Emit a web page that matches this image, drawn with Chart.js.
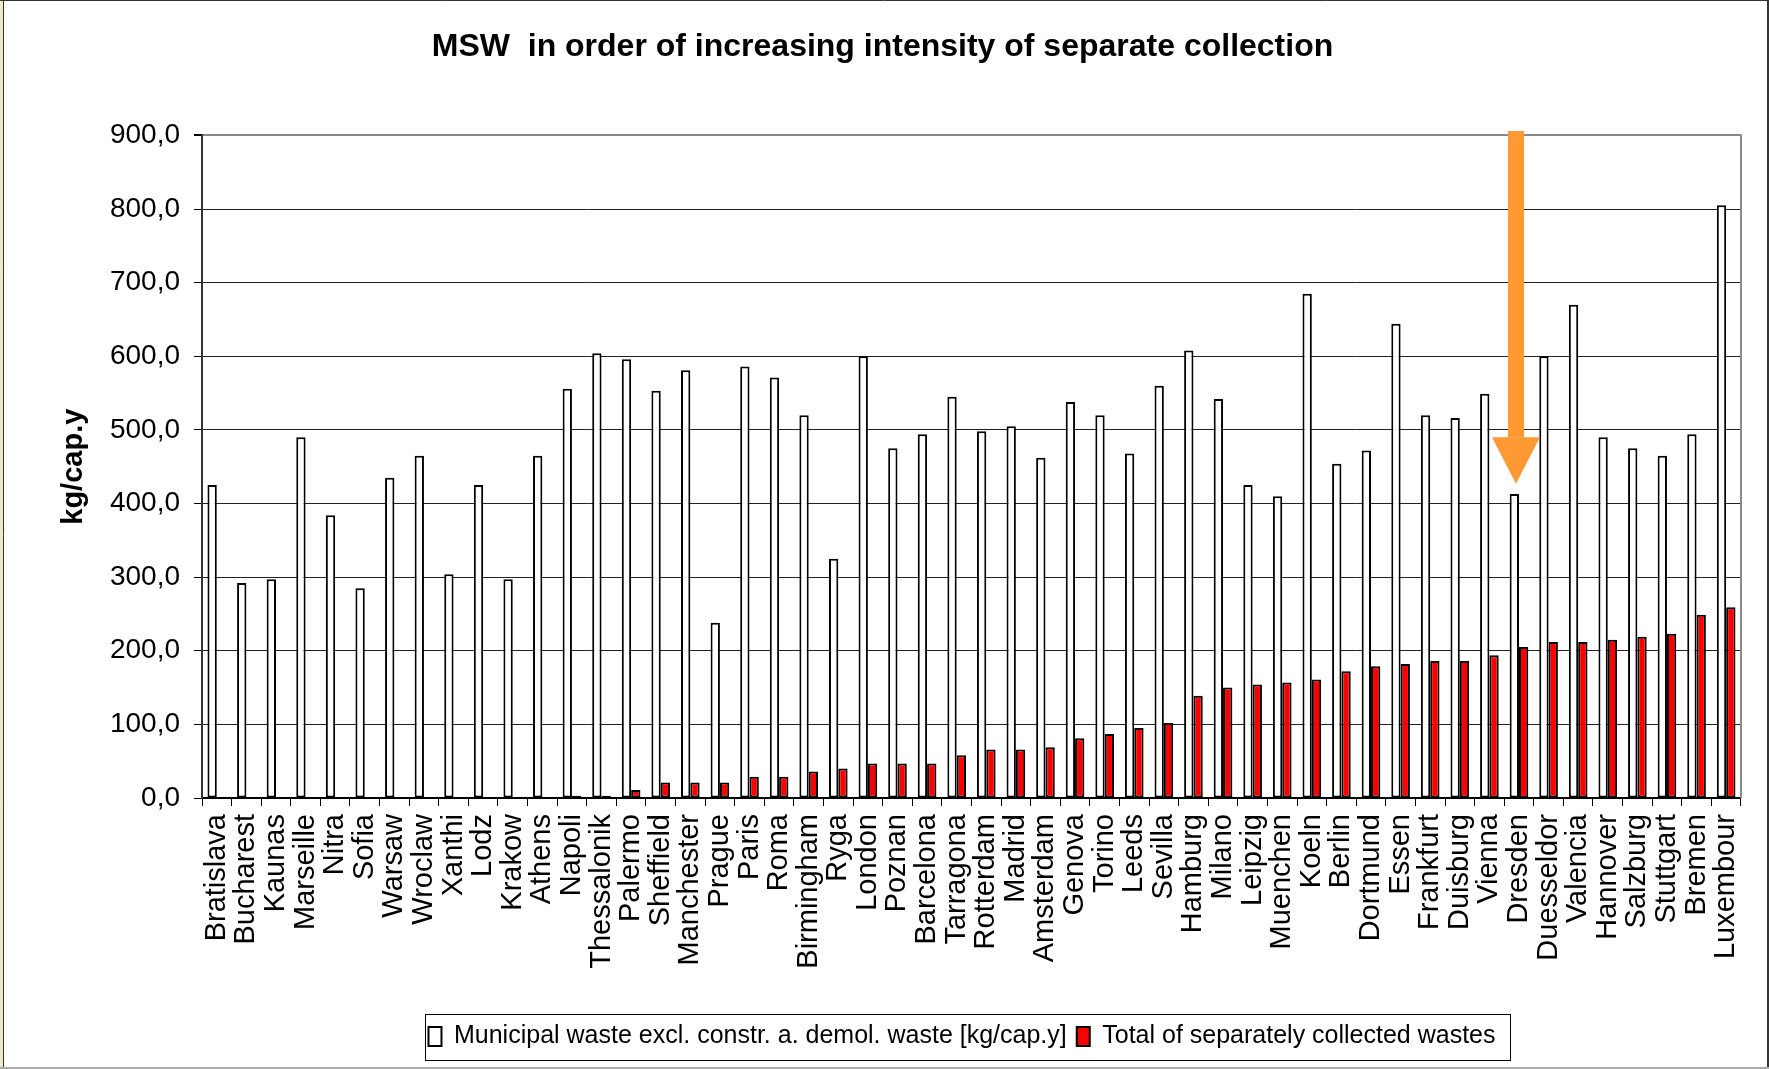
<!DOCTYPE html>
<html>
<head>
<meta charset="utf-8">
<title>MSW in order of increasing intensity of separate collection</title>
<script src="https://cdn.jsdelivr.net/npm/chart.js@4.4.0/dist/chart.umd.min.js"></script>
<style>
  html, body { margin: 0; padding: 0; background: #fff; }
  canvas { display: block; }
</style>
</head>
<body>
<canvas id="msw" width="1769" height="1069"></canvas>
<script>
// cities, ordered by how much of their waste is collected separately
const cities = [
  'Bratislava', 'Bucharest', 'Kaunas', 'Marseille', 'Nitra', 'Sofia', 'Warsaw', 'Wroclaw',
  'Xanthi', 'Lodz', 'Krakow', 'Athens', 'Napoli', 'Thessalonik', 'Palermo', 'Sheffield',
  'Manchester', 'Prague', 'Paris', 'Roma', 'Birmingham', 'Ryga', 'London', 'Poznan',
  'Barcelona', 'Tarragona', 'Rotterdam', 'Madrid', 'Amsterdam', 'Genova', 'Torino', 'Leeds',
  'Sevilla', 'Hamburg', 'Milano', 'Leipzig', 'Muenchen', 'Koeln', 'Berlin', 'Dortmund',
  'Essen', 'Frankfurt', 'Duisburg', 'Vienna', 'Dresden', 'Duesseldor', 'Valencia', 'Hannover',
  'Salzburg', 'Stuttgart', 'Bremen', 'Luxembour'
];

// kg per capita and year
const municipalWaste = [
  425, 292, 297, 490, 384, 285, 435, 465, 304, 425, 297, 465,
  556, 604, 596, 553, 581, 238, 586, 571, 520, 325, 600, 475, 494, 545,
  498, 505, 462, 538, 520, 468, 560, 608, 542, 425, 410, 685,
  454, 472, 644, 520, 516, 549, 413, 600, 670, 490, 475, 465, 494, 805
];

const separateWaste = [
  0, 0, 0, 0, 0, 0, 0, 0, 0, 0, 0, 0,
  3, 3, 11, 21, 21, 21, 29, 29, 36, 40, 47, 47, 47, 58,
  66, 66, 69, 81, 87, 95, 102, 139, 150, 154, 157, 161,
  172, 179, 182, 186, 186, 194, 205, 212, 212, 215, 219, 223, 249, 259
];

const seriesNames = [
  'Municipal waste excl. constr. a. demol. waste [kg/cap.y]',
  'Total of separately collected wastes'
];

const markedCity = 'Dresden';

const FONT = "'Liberation Sans', Arial, sans-serif";
Chart.defaults.font.family = FONT;
Chart.defaults.color = '#000';

// white page with the thin frame around the whole figure
const frame = {
  id: 'frame',
  beforeDraw(chart) {
    const ctx = chart.ctx;
    ctx.save();
    ctx.fillStyle = '#fff';
    ctx.fillRect(0, 0, chart.width, chart.height);
    ctx.restore();
  },
  afterDraw(chart) {
    const {ctx, chartArea: a} = chart;
    ctx.save();
    // right edge of the plot area
    ctx.strokeStyle = '#888';
    ctx.lineWidth = 2;
    ctx.beginPath();
    ctx.moveTo(a.right, a.top - 1);
    ctx.lineTo(a.right, a.bottom);
    ctx.stroke();
    // outer frame
    ctx.fillStyle = '#ecebc4';
    ctx.fillRect(0, 0, 3, chart.height);
    ctx.strokeStyle = '#333';
    ctx.lineWidth = 1;
    ctx.beginPath();
    ctx.moveTo(3.5, 0); ctx.lineTo(3.5, chart.height);
    ctx.moveTo(0, 0.5); ctx.lineTo(chart.width, 0.5);
    ctx.stroke();
    ctx.lineWidth = 2;
    ctx.beginPath();
    ctx.moveTo(chart.width - 1, 0); ctx.lineTo(chart.width - 1, chart.height);
    ctx.stroke();
    ctx.strokeStyle = '#aaa';
    ctx.beginPath();
    ctx.moveTo(0, chart.height - 1); ctx.lineTo(chart.width, chart.height - 1);
    ctx.stroke();
    ctx.restore();
  }
};

// orange arrow pointing down at the marked city
const arrow = {
  id: 'arrow',
  afterDatasetsDraw(chart) {
    const {ctx, scales: {x, y}} = chart;
    const cx = x.getPixelForValue(cities.indexOf(markedCity)) - 3;
    const top = y.getPixelForValue(906);
    const base = y.getPixelForValue(490);
    const tip = y.getPixelForValue(427);
    ctx.save();
    ctx.fillStyle = '#ff9933';
    ctx.fillRect(cx - 8, top, 16, base - top);
    ctx.beginPath();
    ctx.moveTo(cx - 24, base);
    ctx.lineTo(cx + 24, base);
    ctx.lineTo(cx, tip);
    ctx.closePath();
    ctx.fill();
    ctx.restore();
  }
};

// legend sits a bit right of the page centre and has a box round it
const legendBox = {
  id: 'legendBox',
  afterLayout(chart) {
    const lg = chart.legend;
    const dx = 962 - (lg.left + lg.right) / 2;
    lg.left += dx;
    lg.right += dx;
  },
  afterDraw(chart) {
    const boxes = chart.legend.legendHitBoxes;
    if (!boxes || !boxes.length) return;
    const first = boxes[0];
    const last = boxes[boxes.length - 1];
    const x0 = Math.round(first.left - 3);
    const x1 = Math.round(last.left + last.width + 14);
    const yc = Math.round(first.top + first.height / 2);
    const ctx = chart.ctx;
    ctx.save();
    ctx.strokeStyle = '#000';
    ctx.lineWidth = 1;
    ctx.strokeRect(x0 + 0.5, yc - 23 + 0.5, x1 - x0, 46);
    ctx.restore();
  }
};

// a bar with no value gets no outline either
const outline = c => (c.raw ? 2 : 0);

new Chart(document.getElementById('msw'), {
  type: 'bar',
  data: {
    labels: cities,
    datasets: [
      {
        label: seriesNames[0],
        data: municipalWaste,
        backgroundColor: '#ffffff',
        borderColor: '#000',
        borderWidth: outline,
        borderSkipped: false,
        categoryPercentage: 0.63,
        barPercentage: 1
      },
      {
        label: seriesNames[1],
        data: separateWaste,
        backgroundColor: '#ff0000',
        borderColor: '#000',
        borderWidth: outline,
        borderSkipped: false,
        categoryPercentage: 0.63,
        barPercentage: 1
      }
    ]
  },
  options: {
    responsive: false,
    animation: false,
    layout: { padding: { top: 0, left: 0, right: 4, bottom: 10 } },
    plugins: {
      title: {
        display: true,
        text: 'MSW  in order of increasing intensity of separate collection',
        color: '#000',
        font: { family: FONT, size: 32, weight: 'bold' },
        padding: { top: 28, bottom: 69 }
      },
      legend: {
        position: 'bottom',
        labels: {
          color: '#000',
          font: { family: FONT, size: 25 },
          boxWidth: 13,
          boxHeight: 19,
          padding: 10,
          generateLabels(chart) {
            const items = Chart.defaults.plugins.legend.labels.generateLabels(chart);
            items.forEach(it => { it.lineWidth = 2; });
            return items;
          }
        }
      },
      tooltip: { enabled: false }
    },
    scales: {
      x: {
        grid: { drawOnChartArea: false, drawTicks: true, tickLength: 8, color: '#000', lineWidth: 1 },
        border: { color: '#000', width: 2 },
        ticks: {
          autoSkip: false,
          maxRotation: 90,
          minRotation: 90,
          color: '#000',
          font: { family: FONT, size: 29 },
          padding: 8
        },
        afterFit(scale) { scale.height = 216; }
      },
      y: {
        min: 0,
        max: 900,
        ticks: {
          stepSize: 100,
          color: '#000',
          font: { family: FONT, size: 28 },
          padding: 14,
          callback: v => v.toFixed(1).replace('.', ',')
        },
        grid: {
          color: c => (c.tick && c.tick.value === 900 ? '#888' : '#222'),
          lineWidth: c => (c.tick && c.tick.value === 900 ? 2 : 1),
          tickColor: '#000',
          tickLength: 8
        },
        border: { color: '#333', width: 2 },
        title: {
          display: true,
          text: 'kg/cap.y',
          color: '#000',
          font: { family: FONT, size: 29, weight: 'bold' },
          padding: { top: 57, bottom: 0 }
        },
        afterFit(scale) { scale.width = 202; }
      }
    }
  },
  plugins: [frame, arrow, legendBox]
});
</script>
</body>
</html>
